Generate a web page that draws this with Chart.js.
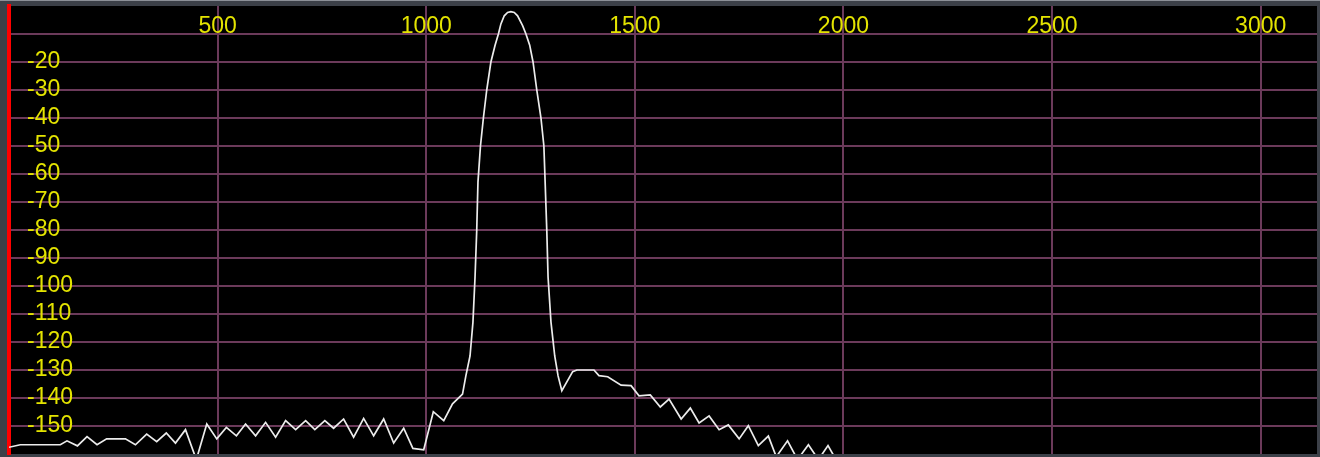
<!DOCTYPE html>
<html>
<head>
<meta charset="utf-8">
<script src="https://cdn.jsdelivr.net/npm/chart.js@4"></script>
<style>
    html, body { margin: 0; padding: 0; background: #3c4048; }
    #wrap { width: 1320px; height: 457px; }
</style>
</head>
<body>
<div id="wrap"><canvas id="spectrum"></canvas></div>
<script>
// spectrum trace: frequency (Hz) and level (dB)
const freqs = [
    0, 27, 123, 139, 164, 187, 211, 234, 279, 303, 330, 354, 377, 399, 423, 449,
    474, 498, 521, 545, 567, 591, 615, 639, 663, 687, 711, 733, 757, 778, 802, 826,
    850, 874, 898, 922, 946, 968, 994, 1017, 1042, 1063, 1087, 1095, 1105, 1112,
    1117, 1121, 1124, 1130, 1137, 1145, 1155, 1165, 1173, 1179, 1187, 1195, 1203, 1211,
    1219, 1231, 1239, 1248, 1256,
    1265, 1275, 1282, 1285, 1289, 1292, 1299, 1304, 1308, 1316, 1325, 1351, 1361,
    1402, 1414, 1435, 1467, 1491, 1510, 1537, 1561, 1582, 1611, 1633, 1654, 1678,
    1702, 1724, 1750, 1772, 1796, 1820, 1839, 1866, 1890, 1916, 1940, 1963, 1986, 2010
];
const levels = [
    -157.6, -156.7, -156.7, -155.3, -157.1, -153.8, -156.7, -154.6, -154.6, -156.7, -152.9, -155.6, -152.5, -156.1, -151.3, -162,
    -149.3, -154.6, -150.5, -153.5, -149.3, -153.5, -148.7, -154.0, -148.1, -151.3, -148.1, -151.3, -148.1, -150.8, -147.5, -154.0,
    -147.3, -153.5, -147.5, -156.1, -150.8, -158.0, -158.5, -144.9, -148.1, -142.1, -138.6, -132.1, -125, -112.9,
    -96.8, -80.4, -62.9, -50, -40, -30, -20, -14, -10, -6.4, -3.5, -2.3, -2.0, -2.3,
    -3.5, -7.0, -10, -14, -20,
    -30, -40, -50, -62.9, -80.4, -96.8, -112.9, -119.6, -125, -132.1, -137.4, -130.6, -130,
    -130, -132, -132.4, -135.4, -135.6, -139.2, -138.9, -143.2, -140.4, -147.5, -143.6, -148.9, -146.4,
    -151.3, -149.6, -154.6, -149.9, -157.0, -153.6, -161, -155.3, -162, -156.7, -162, -157.0, -163, -165
];

// axis ticks
const freqTicks = [0, 500, 1000, 1500, 2000, 2500, 3000];
const dbTicks = [0, -10, -20, -30, -40, -50, -60, -70, -80, -90, -100, -110, -120, -130, -140, -150, -160];
const freqMin = 0;
const freqMax = 3135;
const dbMin = -160;
const dbMax = 0;

const gridColor = "#6b3a5a";
const labelColor = "#e4e400";
const labelFont = { family: "Liberation Sans", size: 23 };

const points = freqs.map((f, i) => ({ x: f, y: levels[i] }));

// gray frame around a black plot area
const backdrop = {
    id: "backdrop",
    beforeDraw(chart) {
        const { ctx, chartArea } = chart;
        ctx.save();
        ctx.fillStyle = "#3c4048";
        ctx.fillRect(0, 0, chart.width, chart.height);
        ctx.fillStyle = "#8c9098";
        ctx.fillRect(0, 0, chart.width, 1);
        ctx.fillStyle = "#000000";
        ctx.fillRect(chartArea.left, chartArea.top, chartArea.right - chartArea.left, chartArea.bottom - chartArea.top);
        ctx.restore();
    }
};

// labels sit inside the plot, so the axes take no room
const flatAxis = (scale) => {
    if (scale.isHorizontal()) scale.height = 0;
    else scale.width = 0;
    scale.paddingTop = 0;
    scale.paddingBottom = 0;
    scale.paddingLeft = 0;
    scale.paddingRight = 0;
};

new Chart(document.getElementById("spectrum"), {
    type: "line",
    data: {
        datasets: [{
            data: points,
            borderColor: "#ececec",
            borderWidth: 1.7,
            pointRadius: 0,
            tension: 0,
            fill: false
        }]
    },
    options: {
        responsive: true,
        maintainAspectRatio: false,
        animation: false,
        layout: { autoPadding: false, padding: { left: 9, top: 6, right: 3, bottom: 3 } },
        plugins: {
            legend: { display: false },
            tooltip: { enabled: false }
        },
        scales: {
            x: {
                type: "linear",
                position: "top",
                min: freqMin,
                max: freqMax,
                afterFit: flatAxis,
                afterBuildTicks: (scale) => { scale.ticks = freqTicks.map((v) => ({ value: v })); },
                border: { display: false },
                grid: {
                    color: (c) => (c.tick && c.tick.value === 0 ? "rgba(0,0,0,0)" : gridColor),
                    lineWidth: 2,
                    drawTicks: false
                },
                ticks: {
                    autoSkip: false,
                    mirror: true,
                    padding: 7,
                    color: labelColor,
                    maxRotation: 0,
                    font: labelFont,
                    callback: (v) => (v === 0 ? "" : String(v))
                }
            },
            y: {
                type: "linear",
                position: "left",
                min: dbMin,
                max: dbMax,
                afterFit: flatAxis,
                afterBuildTicks: (scale) => { scale.ticks = dbTicks.map((v) => ({ value: v })); },
                border: { display: true, color: "#ff0000", width: 4 },
                grid: {
                    color: (c) => (c.tick && (c.tick.value === dbMin || c.tick.value === dbMax) ? "rgba(0,0,0,0)" : gridColor),
                    lineWidth: 2,
                    drawTicks: false
                },
                ticks: {
                    autoSkip: false,
                    mirror: true,
                    padding: 18,
                    color: labelColor,
                    font: labelFont,
                    callback: (v) => (v > -20 || v === dbMin ? "" : String(v))
                }
            }
        }
    },
    plugins: [backdrop]
});
</script>
</body>
</html>
